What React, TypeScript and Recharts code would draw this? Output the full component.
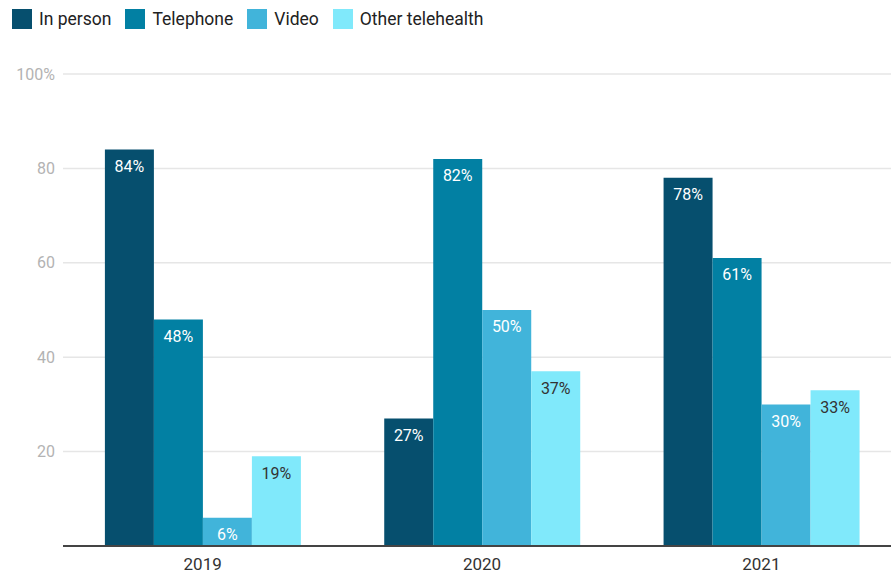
import { BarChart, Bar, XAxis, YAxis, CartesianGrid, LabelList } from 'recharts';

const years = ['2019', '2020', '2021'];
const inPerson = [84, 27, 78];
const telephone = [48, 82, 61];
const video = [6, 50, 30];
const otherTelehealth = [19, 37, 33];
const yTicks = [0, 20, 40, 60, 80, 100];

const series = [
    { key: 'inPerson', name: 'In person', color: '#064f6e', label: '#ffffff' },
    { key: 'telephone', name: 'Telephone', color: '#0280a3', label: '#ffffff' },
    { key: 'video', name: 'Video', color: '#41b4da', label: '#ffffff' },
    { key: 'other', name: 'Other telehealth', color: '#80e9fb', label: '#333333' },
];

const data = years.map((year, i) => ({
    year,
    inPerson: inPerson[i],
    telephone: telephone[i],
    video: video[i],
    other: otherTelehealth[i],
}));

const font = 'Roboto, "Noto Sans", sans-serif';

const LegendRow = () => (
    <div style={{ position: 'absolute', left: 12, top: 9, display: 'flex', fontFamily: font, fontSize: 17.5, color: '#222' }}>
        {series.map((s) => (
            <div key={s.key} style={{ display: 'flex', alignItems: 'center', marginRight: 14 }}>
                <span style={{ width: 20, height: 20, background: s.color, marginRight: 7, display: 'inline-block' }} />
                <span>{s.name}</span>
            </div>
        ))}
    </div>
);

const App = () => {
    return (
        <div style={{ position: 'absolute', left: 0, top: 0, width: 891, height: 577, overflow: 'hidden', background: '#fff' }}>
            <LegendRow />
            <BarChart
                width={901}
                height={577}
                data={data}
                margin={{ top: 74, right: 0, bottom: 0, left: 0 }}
                barCategoryGap="15%"
                barGap={0}
            >
                <CartesianGrid vertical={false} stroke="#e6e6e6" strokeWidth={1.5} />
                <XAxis
                    dataKey="year"
                    height={31}
                    tickLine={false}
                    axisLine={{ stroke: '#444', strokeWidth: 2 }}
                    tick={{ fill: '#333', fontSize: 17, fontFamily: font }}
                    tickMargin={6}
                />
                <YAxis
                    width={63}
                    domain={[0, 100]}
                    ticks={yTicks}
                    tickLine={false}
                    axisLine={false}
                    tick={{ fill: '#b3b3b3', fontSize: 16, fontFamily: font }}
                    tickFormatter={(v: number) => (v === 0 ? '' : v === 100 ? '100%' : String(v))}
                />
                {series.map((s) => (
                    <Bar key={s.key} dataKey={s.key} name={s.name} fill={s.color} isAnimationActive={false}>
                        <LabelList
                            dataKey={s.key}
                            position="insideTop"
                            offset={11}
                            formatter={(v: number) => `${v}%`}
                            style={{ fill: s.label, fontSize: 16, fontFamily: font, fontWeight: 400 }}
                        />
                    </Bar>
                ))}
            </BarChart>
        </div>
    );
};

export default App;
